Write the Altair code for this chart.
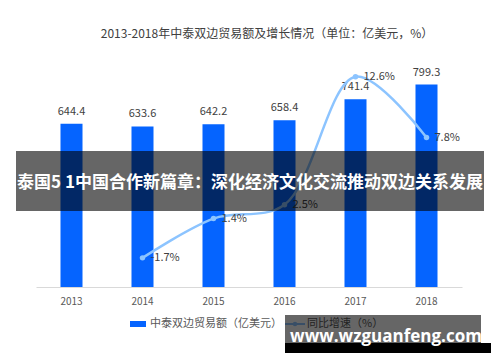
import altair as alt
import pandas as pd

# ---- data ----
years = ["2013", "2014", "2015", "2016", "2017", "2018"]
trade = [644.4, 633.6, 642.2, 658.4, 741.4, 799.3]
growth_years = ["2014", "2015", "2016", "2017", "2018"]
growth = [-1.7, 1.4, 2.5, 12.6, 7.8]
left_ticks = [0, 100, 200, 300, 400, 500, 600, 700, 800, 900]
right_ticks = [-4, -2, 0, 2, 4, 6, 8, 10, 12, 14]
title_text = "2013-2018年中泰双边贸易额及增长情况（单位：亿美元，%）"
banner_text = "泰国5 1中国合作新篇章：深化经济文化交流推动双边关系发展"
watermark_text = "www.wzguanfeng.com"
legend_labels = ["中泰双边贸易额（亿美元）", "同比增速（%）"]

FONT = "Noto Sans CJK SC"
BAR = "#0564FF"
LINE = "#8CC4FF"
LABEL = "#595959"

bar_df = pd.DataFrame({"year": years, "trade": trade})
bar_df["label"] = [f"{v:.1f}" for v in trade]
line_df = pd.DataFrame({"year": growth_years, "growth": growth})
line_df["label"] = [f"{v:.1f}%" for v in growth]
one = pd.DataFrame({"k": [0]})

xenc = alt.X(
    "year:N", sort=years,
    scale=alt.Scale(paddingInner=0.69, paddingOuter=0.345),
    axis=alt.Axis(title=None, labelAngle=0, ticks=False, domainColor="#D9D9D9",
                  labelColor=LABEL, labelFontSize=10, labelPadding=9, labelFont=FONT),
)

bars = alt.Chart(bar_df).mark_bar(color=BAR).encode(
    x=xenc,
    y=alt.Y("trade:Q", scale=alt.Scale(domain=[0, 900]),
            axis=alt.Axis(values=left_ticks, title=None, domain=False, ticks=False, grid=False,
                          labelColor=LABEL, labelFontSize=10, labelPadding=10, labelFont=FONT)),
)
bar_text = alt.Chart(bar_df).mark_text(dy=-12, fontSize=11, color="#404040", font=FONT).encode(
    x=alt.X("year:N", sort=years), y=alt.Y("trade:Q", axis=None), text="label:N"
)
left = alt.layer(bars, bar_text)

line = alt.Chart(line_df).mark_line(
    color=LINE, strokeWidth=2.5, interpolate="catmull-rom",
    point=alt.OverlayMarkDef(color=LINE, filled=True, size=30),
).encode(
    x=alt.X("year:N", sort=years),
    y=alt.Y("growth:Q", scale=alt.Scale(domain=[-4, 14]),
            axis=alt.Axis(orient="right", values=right_ticks, title=None, domain=False, ticks=False,
                          grid=False, labelColor=LABEL, labelFontSize=10, labelPadding=11,
                          labelFont=FONT, labelExpr="datum.value + '%'")),
)
line_text = alt.Chart(line_df).mark_text(align="left", dx=8, fontSize=11, color="#404040", font=FONT).encode(
    x=alt.X("year:N", sort=years), y=alt.Y("growth:Q", axis=None), text="label:N"
)
right = alt.layer(line, line_text)

main = alt.layer(left, right).resolve_scale(y="independent")

# ---- legend (manual) ----
leg1 = pd.DataFrame({"t": [legend_labels[0]]})
leg2 = pd.DataFrame({"t": [legend_labels[1]]})
leg_rect = alt.Chart(one).mark_rect(color=BAR).encode(
    x=alt.value(94), x2=alt.value(110), y=alt.value(262), y2=alt.value(268))
leg_text1 = alt.Chart(leg1).mark_text(align="left", baseline="middle", fontSize=11, color=LABEL, font=FONT).encode(
    x=alt.value(114), y=alt.value(265), text="t:N")
leg_rule = alt.Chart(one).mark_rule(color=LINE, strokeWidth=2).encode(
    x=alt.value(249), x2=alt.value(269), y=alt.value(265))
leg_pt = alt.Chart(one).mark_point(color=LINE, filled=True, size=20, opacity=1).encode(
    x=alt.value(259), y=alt.value(265))
leg_text2 = alt.Chart(leg2).mark_text(align="left", baseline="middle", fontSize=11, color=LABEL, font=FONT).encode(
    x=alt.value(271), y=alt.value(265), text="t:N")

# ---- banner overlay ----
ban_df = pd.DataFrame({"t": [banner_text]})
banner = alt.Chart(one).mark_rect(color="black", opacity=0.6).encode(
    x=alt.value(-20), x2=alt.value(448), y=alt.value(92), y2=alt.value(152))
banner_t = alt.Chart(ban_df).mark_text(fontSize=17, fontWeight="bold", color="white", font=FONT,
                                       baseline="middle").encode(
    x=alt.value(214), y=alt.value(124), text="t:N")

# ---- watermark ----
wm_df = pd.DataFrame({"t": [watermark_text]})
wm_box = alt.Chart(one).mark_rect(color="black", opacity=0.6).encode(
    x=alt.value(249), x2=alt.value(445), y=alt.value(256), y2=alt.value(284))
wm_bar = alt.Chart(one).mark_rect(color="black", opacity=1).encode(
    x=alt.value(249), x2=alt.value(455), y=alt.value(284), y2=alt.value(294))
wm_t = alt.Chart(wm_df).mark_text(fontSize=17, fontWeight="bold", color="white", font="Open Sans",
                                  baseline="middle").encode(
    x=alt.value(350), y=alt.value(278), text="t:N")

chart = alt.layer(
    main, leg_rect, leg_text1, leg_rule, leg_pt, leg_text2,
    banner, banner_t, wm_box, wm_bar, wm_t,
).properties(
    width=426, height=228,
    title=alt.TitleParams(title_text, fontSize=12, color="#404040", font=FONT,
                          fontWeight="normal", dx=18, offset=18),
    autosize=alt.AutoSizeParams(type="none"),
    padding={"left": 28, "top": 51, "right": 30, "bottom": 67},
).configure_view(stroke=None)

chart.save("out.html", embed_options={"renderer": "svg", "actions": False})
